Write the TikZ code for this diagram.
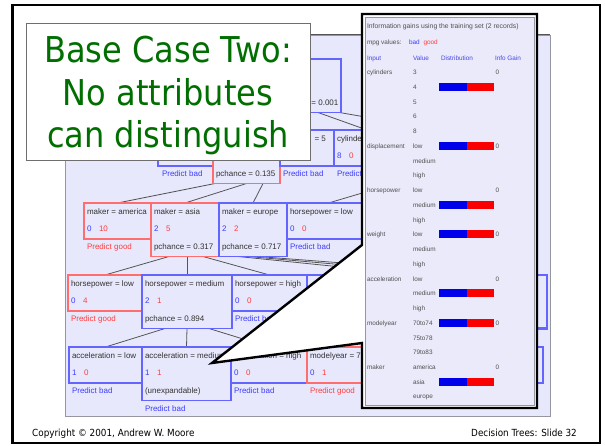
\documentclass[tikz,border=0pt]{standalone}
\usepackage{fontspec}
\setmainfont{Liberation Sans}
\newfontfamily\tahoma[FakeStretch=0.9]{DejaVu Sans}
\usetikzlibrary{backgrounds}

\definecolor{treebg}{RGB}{232,232,252}
\definecolor{panelgray}{RGB}{150,150,160}
\definecolor{boxblue}{RGB}{100,100,255}
\definecolor{boxred}{RGB}{255,110,110}
\definecolor{numblue}{RGB}{60,60,255}
\definecolor{numred}{RGB}{255,60,60}
\definecolor{labelgray}{RGB}{50,50,50}
\definecolor{edgegray}{RGB}{85,85,85}
\definecolor{titlegreen}{RGB}{0,110,0}
\definecolor{titlegray}{RGB}{110,110,110}
\definecolor{infobg}{RGB}{234,234,250}
\definecolor{infogray}{RGB}{80,80,80}
\definecolor{infoblue}{RGB}{70,70,230}
\definecolor{barblue}{RGB}{0,0,235}
\definecolor{barred}{RGB}{250,0,0}

\tikzset{
  box/.style={rectangle, anchor=north west, inner sep=0pt, outer sep=0pt,
    line width=1.1pt, fill=treebg},
  bluebox/.style={box, draw=boxblue},
  redbox/.style={box, draw=boxred},
  lbl/.style={anchor=base west, inner sep=0pt, outer sep=0pt,
    font=\fontsize{8}{9}\selectfont, text=labelgray},
  nb/.style={lbl, text=numblue},
  nr/.style={lbl, text=numred},
  edge/.style={draw=edgegray, line width=0.8pt},
  info/.style={anchor=base west, inner sep=0pt, outer sep=0pt,
    font=\fontsize{6.4}{7}\selectfont, text=infogray},
  infohead/.style={info, text=infoblue},
  titleline/.style={anchor=base, inner sep=0pt, text=titlegreen,
    font=\tahoma\fontsize{35.6}{40}\selectfont},
  foot/.style={inner sep=0pt, text=black, font=\tahoma\fontsize{9.8}{11}\selectfont},
}

% label, two counts and a third line inside / below a tree box
\newcommand\boxtexts[6]{%
  \node[lbl] (#1-l) at ([shift={(3,11.8)}]#1.north west) {#2};
  \node[nb] (#1-a) at ([shift={(3,28.8)}]#1.north west) {#3};
  \node[nr] (#1-b) at ([shift={(15,28.8)}]#1.north west) {#4};
  \node[#6] (#1-c) at ([shift={(3,46.8)}]#1.north west) {#5};
}

\begin{document}
\begin{tikzpicture}[x=1pt,y=-1pt]
\useasboundingbox (0,0) rectangle (605,446);

% ---------------- tree boxes ----------------
\node[bluebox, minimum width=65pt, minimum height=53.5pt] (root) at (276,59) {};
\node[bluebox, minimum width=55pt, minimum height=36pt] (cyl3) at (158,130) {};
\node[redbox,  minimum width=67pt, minimum height=53.5pt] (cyl4) at (213,130) {};
\node[bluebox, minimum width=54pt, minimum height=36pt] (cyl5) at (280,130) {};
\node[bluebox, minimum width=66pt, minimum height=36pt] (cyl6) at (334,130) {};

\node[redbox,  minimum width=67pt, minimum height=36pt] (am) at (84,203) {};
\node[redbox,  minimum width=68pt, minimum height=53.5pt] (as) at (151,203) {};
\node[bluebox, minimum width=68pt, minimum height=53.5pt] (eu) at (219,203) {};
\node[bluebox, minimum width=83pt, minimum height=36pt] (hpl3) at (287,203) {};

\node[redbox,  minimum width=74pt, minimum height=36pt] (hpl4) at (68,275) {};
\node[bluebox, minimum width=90pt, minimum height=53.5pt] (hpm) at (142,275) {};
\node[bluebox, minimum width=75pt, minimum height=36pt] (hph) at (232,275) {};
\node[bluebox, minimum width=73pt, minimum height=36pt] (hpx) at (307,275) {};
\node[bluebox, line width=2.4pt, minimum width=66pt, minimum height=53.5pt] (wr) at (481,275) {};

\node[bluebox, minimum width=73pt, minimum height=36pt] (acl) at (69,347) {};
\node[bluebox, minimum width=89pt, minimum height=53.5pt] (acm) at (142,347) {};
\node[bluebox, minimum width=76pt, minimum height=36pt] (ach) at (231,347) {};
\node[redbox,  minimum width=73pt, minimum height=36pt] (my) at (307,347) {};
\node[bluebox, minimum width=63pt, minimum height=36pt] (ar) at (480,347) {};

% branch ends that run under the information panel
\coordinate (c8top) at (440,130);
\coordinate (c8bot) at (440,170);
\coordinate (eu1) at (420,275);
\coordinate (eu2) at (460,275);
\coordinate (eu3) at (500,275);
\coordinate (myup) at (440,318);

% ---------------- panel and branches ----------------
\begin{pgfonlayer}{background}
  \draw[panelgray, fill=treebg, line width=0.8pt] (65,35) rectangle (550,416);
  \draw[edgegray, line width=1pt] (65,35) -- (550,35);

  \draw[edge] ([xshift=9.5pt]root.south) -- (cyl6.north);
  \draw[edge] ([xshift=31pt]root.south) -- (c8top);
  \draw[edge] ([xshift=-31.5pt]cyl4.south) -- (am.north);
  \draw[edge] (cyl4.south) -- (as.north);
  \draw[edge] ([xshift=16.5pt]cyl4.south) -- (eu.north);
  \draw[edge] (hpl3.north) -- (c8bot);
  \draw[edge] ([xshift=-15pt]eu.south) -- (eu1);
  \draw[edge] ([xshift=-5pt]eu.south) -- (eu2);
  \draw[edge] ([xshift=5pt]eu.south) -- (eu3);
  \draw[edge] ([xshift=-16pt]as.south) -- (hpl4.north);
  \draw[edge] ([xshift=2pt]as.south) -- (hpm.north);
  \draw[edge] ([xshift=18pt]as.south) -- (hph.north);
  \draw[edge] ([xshift=-22pt]hpm.south) -- (acl.north);
  \draw[edge] (hpm.south) -- (acm.north);
  \draw[edge] ([xshift=22pt]hpm.south) -- (ach.north);
  \draw[edge] (my.north) -- (myup);
\end{pgfonlayer}

% ---------------- box texts ----------------
\node[lbl] (root-c) at ([shift={(3,46.8)}]root.north west) {pchance = 0.001};
\node[nb] (cyl3-c) at ([shift={(4,46.8)}]cyl3.north west) {Predict bad};
\node[lbl] (cyl4-c) at ([shift={(3,46.8)}]cyl4.north west) {pchance = 0.135};
\node[lbl] (cyl5-l) at ([shift={(34.5,11.8)}]cyl5.north west) {= 5};
\node[nb] (cyl5-c) at ([shift={(3,46.8)}]cyl5.north west) {Predict bad};
\boxtexts{cyl6}{cylinders = 6}{8}{0}{Predict bad}{nb}

\boxtexts{am}{maker = america}{0}{10}{Predict good}{nr}
\boxtexts{as}{maker = asia}{2}{5}{pchance = 0.317}{lbl}
\boxtexts{eu}{maker = europe}{2}{2}{pchance = 0.717}{lbl}
\boxtexts{hpl3}{horsepower = low}{0}{0}{Predict bad}{nb}

\boxtexts{hpl4}{horsepower = low}{0}{4}{Predict good}{nr}
\boxtexts{hpm}{horsepower = medium}{2}{1}{pchance = 0.894}{lbl}
\boxtexts{hph}{horsepower = high}{0}{0}{Predict bad}{nb}

\boxtexts{acl}{acceleration = low}{1}{0}{Predict bad}{nb}
\boxtexts{acm}{acceleration = medium}{1}{1}{(unexpandable)}{lbl}
\node[nb] (acm-p) at ([shift={(3,64.8)}]acm.north west) {Predict bad};
\boxtexts{ach}{acceleration = high}{0}{0}{Predict bad}{nb}
\boxtexts{my}{modelyear = 79to83}{0}{1}{Predict good}{nr}

% ---------------- title card ----------------
\node[draw=titlegray, line width=1.3pt, fill=white, anchor=north west,
      inner sep=0pt, minimum width=284pt, minimum height=137pt] (title) at (26,23) {};
\node[titleline] (title1) at (168,62.5) {Base Case Two:};
\node[titleline] (title2) at (168,105.5) {No attributes};
\node[titleline] (title3) at (168,148) {can distinguish};

% ---------------- information panel with its pointer ----------------
\draw[black, line width=2.4pt, fill=white, line join=miter]
  (362,245) -- (362,14) -- (537,14) -- (537,408) -- (362,408) -- (362,343)
  -- (212,363) -- cycle;
\draw[panelgray, line width=0.6pt, fill=infobg] (365.5,17.5) rectangle (534,405);

\node[info, font=\fontsize{6.8}{8}\selectfont] (ihead) at (367,28.3)
  {Information gains using the training set (2 records)};
\node[info] (mpg) at (367,44.3) {mpg values:};
\node[info, text=numblue] (mpgbad) at (409,44.3) {bad};
\node[info, text=numred] (mpggood) at (423.5,44.3) {good};
\node[infohead] (hin) at (367,60.3) {Input};
\node[infohead] (hval) at (413,60.3) {Value};
\node[infohead] (hdist) at (441,60.3) {Distribution};
\node[infohead] (hgain) at (495,60.3) {Info Gain};

\foreach \v [count=\k from 0] in {3,4,5,6,8,low,medium,high,low,medium,high,
    low,medium,high,low,medium,high,70to74,75to78,79to83,america,asia,europe}
  \node[info] (val\k) at (413,{74.6+14.745*\k}) {\v};
\foreach \inp/\k in {cylinders/0,displacement/5,horsepower/8,weight/11,
    acceleration/14,modelyear/17,maker/20}
  \node[info] (inp\k) at (367,{74.6+14.745*\k}) {\inp};
\foreach \k in {0,5,8,11,14,17,20}
  \node[info] (gain\k) at (495.5,{74.6+14.745*\k}) {0};
\foreach \k in {1,5,9,11,15,17,21}{
  \fill[barblue] (439,{68.3+14.745*\k}) rectangle (466.5,{76.3+14.745*\k});
  \fill[barred] (466.5,{68.3+14.745*\k}) rectangle (493.5,{76.3+14.745*\k});
}

% ---------------- slide frame and footer ----------------
\draw[black, line width=2.6pt] (12.5,5) rectangle (600,443);
\node[foot, anchor=base west] (copy) at (32,436.5) {Copyright © 2001, Andrew W. Moore};
\node[foot, anchor=base east] (slide) at (577,436.5) {Decision Trees: Slide 32};
\end{tikzpicture}
\end{document}
